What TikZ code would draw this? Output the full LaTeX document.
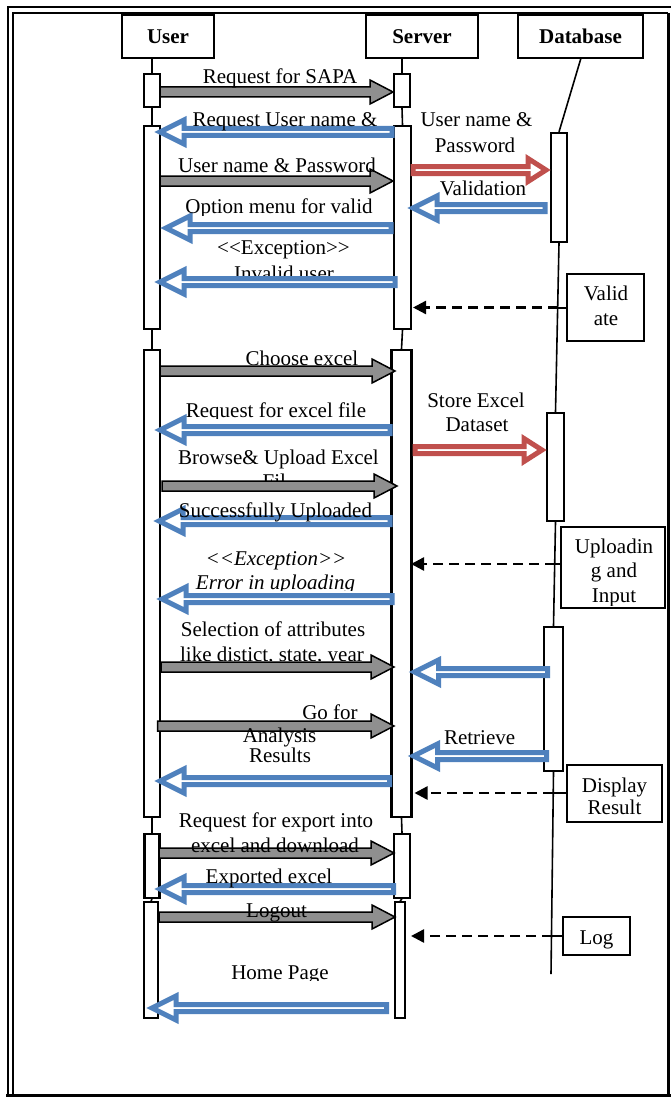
\documentclass[tikz,border=0pt]{standalone}
\usepackage{fontspec}
\setmainfont{Liberation Serif}
\usetikzlibrary{arrows.meta,calc}
\definecolor{ablue}{HTML}{4F81BD}
\definecolor{ared}{HTML}{C0504D}
\definecolor{agray}{HTML}{8F8F8F}
\newcommand{\blockarr}[6]{%
  \draw[#1] let \p1=(#2), \p2=(#3), \n1={ifthenelse(\x2>\x1,1,-1)} in
  (\x1,{\y1+#4}) -- ({\x2-(\n1)*#6},{\y1+#4}) -- ({\x2-(\n1)*#6},{\y1+#5})
  -- (\x2,\y1) -- ({\x2-(\n1)*#6},{\y1-#5}) -- ({\x2-(\n1)*#6},{\y1-#4})
  -- (\x1,{\y1-#4}) -- cycle;}
\newcommand{\gmsg}[2]{\blockarr{garr}{#1}{#2}{5pt}{12pt}{23pt}}
\newcommand{\bmsg}[2]{\blockarr{barr}{#1}{#2}{3.5pt}{12pt}{24pt}}
\newcommand{\rmsg}[2]{\blockarr{rarr}{#1}{#2}{3.5pt}{11.5pt}{18pt}}
\newcommand{\clbl}[6]{% name, x, y, clip x, clip y, text
  \begin{scope}\clip (0,0) rectangle (#4,#5);
  \node[lbl] (#1) at (#2,#3) {#6};\end{scope}}
\newcommand{\excp}{<\kern0pt<Exception>\kern0pt>}
\begin{document}
\begin{tikzpicture}[x=1pt,y=-1pt,
  hdbox/.style={draw, fill=white, line width=1.4pt, inner sep=0pt, font=\fontsize{21}{25}\selectfont\bfseries},
  actbox/.style={draw, fill=white, line width=2.2pt, inner sep=0pt},
  lifeln/.style={line width=1.6pt},
  notebox/.style={draw, fill=white, line width=2pt, inner sep=0pt},
  lbl/.style={inner sep=0pt, anchor=base, font=\fontsize{21}{25}\selectfont},
  garr/.style={fill=agray, draw=black, line width=1.5pt, line join=miter},
  barr/.style={fill=white, draw=ablue, line width=5pt, line join=miter, miter limit=10},
  rarr/.style={fill=white, draw=ared, line width=5pt, line join=miter, miter limit=10},
  dsh/.style={line width=2.4pt, dash pattern=on 10pt off 6pt, -{Triangle[length=13pt,width=13pt]}},
  conn/.style={line width=2pt}]
\useasboundingbox (0,0) rectangle (670,1097);
% frame
\draw[line width=1.5pt] (8,1100) -- (8,7) -- (675,7);
\draw[line width=2.2pt] (13,1095) -- (13,13) -- (668,13);
\draw[line width=3pt] (668,13) -- (668,1095);
\draw[line width=3pt] (6,1095) -- (672,1095);
% headers
\node[hdbox, minimum width=92pt, minimum height=43pt] (uHead) at (168,36.5) {User};
\node[hdbox, minimum width=112pt, minimum height=43pt] (sHead) at (422,36.5) {Server};
\node[hdbox, minimum width=125pt, minimum height=43pt] (dHead) at (580.5,36.5) {Database};
% activation boxes
\node[actbox, minimum width=16pt, minimum height=33pt] (uA1) at (152,90.5) {};
\node[actbox, minimum width=16pt, minimum height=203pt] (uA2) at (152,227.5) {};
\node[actbox, minimum width=16pt, minimum height=467pt] (uA3) at (152,583.5) {};
\node[actbox, minimum width=15pt, minimum height=64pt] (uA4) at (152,866) {};
\node[actbox, minimum width=14pt, minimum height=116pt] (uA5) at (151,960) {};
\node[actbox, minimum width=16pt, minimum height=33pt] (sA1) at (402,90.5) {};
\node[actbox, minimum width=16.5pt, minimum height=203pt] (sA2) at (402.5,227.5) {};
\node[actbox, minimum width=20pt, minimum height=467pt] (sA3) at (401.5,583.5) {};
\node[actbox, minimum width=15.5pt, minimum height=64pt] (sA4) at (402,866) {};
\node[actbox, minimum width=10.5pt, minimum height=116pt] (sA5) at (400,960) {};
\node[actbox, minimum width=16pt, minimum height=109pt] (dA1) at (559,187.5) {};
\node[actbox, minimum width=17pt, minimum height=108pt] (dA2) at (555.5,467) {};
\node[actbox, minimum width=19pt, minimum height=144pt] (dA3) at (553.5,699) {};
% lifelines
\coordinate (dTop) at (581,58);
\coordinate (dEnd) at (551,974);
\draw[lifeln] (uA1.north |- uHead.south) -- (uA1.north);
\draw[lifeln] (uA1.south) -- (uA2.north);
\draw[lifeln] (uA2.south) -- (uA3.north);
\draw[lifeln] (uA3.south) -- (uA4.north);
\draw[lifeln] (uA4.south) -- (uA5.north);
\draw[lifeln] (sA1.north |- sHead.south) -- (sA1.north);
\draw[lifeln] (sA1.south) -- (sA2.north);
\draw[lifeln] (sA2.south) -- (sA3.north);
\draw[lifeln] (sA3.south) -- (sA4.north);
\draw[lifeln] (sA4.south) -- (sA5.north);
\draw[lifeln] (dTop) -- (dA1.north);
\draw[lifeln] (dA1.south) -- (dA2.north);
\draw[lifeln] (dA2.south) -- (dA3.north);
\draw[lifeln] (dA3.south) -- (dEnd);
% message end points
\coordinate (m1a) at (160,92);   \coordinate (m1b) at (393,92);
\coordinate (m2a) at (392,132);  \coordinate (m2b) at (160,132);
\coordinate (m3a) at (160,181);  \coordinate (m3b) at (393,181);
\coordinate (m4a) at (391,228);  \coordinate (m4b) at (166,228);
\coordinate (m5a) at (395,282);  \coordinate (m5b) at (160,282);
\coordinate (m6a) at (413,170);  \coordinate (m6b) at (546,170);
\coordinate (m7a) at (545,208);  \coordinate (m7b) at (413,208);
\coordinate (m9a) at (160,371);  \coordinate (m9b) at (395,371);
\coordinate (m10a) at (415,450); \coordinate (m10b) at (542,450);
\coordinate (m11a) at (390,430); \coordinate (m11b) at (160,430);
\coordinate (m12a) at (162,486); \coordinate (m12b) at (397,486);
\coordinate (m13a) at (390,521); \coordinate (m13b) at (159,521);
\coordinate (m14a) at (392,599); \coordinate (m14b) at (162,599);
\coordinate (m16a) at (161,667); \coordinate (m16b) at (394,667);
\coordinate (m17a) at (547.5,672); \coordinate (m17b) at (414.5,672);
\coordinate (m18a) at (157.5,726); \coordinate (m18b) at (394,726);
\coordinate (m19a) at (546.5,756); \coordinate (m19b) at (413.5,756);
\coordinate (m20a) at (389.5,781); \coordinate (m20b) at (160,781);
\coordinate (m22a) at (159,853); \coordinate (m22b) at (394,853);
\coordinate (m23a) at (393.5,889); \coordinate (m23b) at (160,889);
\coordinate (m24a) at (159,917); \coordinate (m24b) at (395,917);
\coordinate (m26a) at (386.5,1008); \coordinate (m26b) at (152,1008);
% arrows
\gmsg{m1a}{m1b}
\bmsg{m2a}{m2b}
\gmsg{m3a}{m3b}
\bmsg{m4a}{m4b}
\bmsg{m5a}{m5b}
\rmsg{m6a}{m6b}
\bmsg{m7a}{m7b}
\gmsg{m9a}{m9b}
\rmsg{m10a}{m10b}
\bmsg{m11a}{m11b}
\gmsg{m12a}{m12b}
\bmsg{m13a}{m13b}
\bmsg{m14a}{m14b}
\gmsg{m16a}{m16b}
\bmsg{m17a}{m17b}
\gmsg{m18a}{m18b}
\bmsg{m19a}{m19b}
\bmsg{m20a}{m20b}
\gmsg{m22a}{m22b}
\bmsg{m23a}{m23b}
\gmsg{m24a}{m24b}
\bmsg{m26a}{m26b}
% labels
\node[lbl] (t1) at (280,84) {Request for SAPA};
\node[lbl] (t2) at (285,127) {Request User name \&};
\node[lbl] (t3) at (277,172) {User name \& Password};
\clbl{t4}{279}{213}{670}{215}{Option menu for valid}
\node[lbl] (t5a) at (283.5,254) {\excp};
\clbl{t5b}{284}{280}{670}{275}{Invalid user}
\node[lbl] (t6a) at (476.5,127) {User name \&};
\node[lbl] (t6b) at (475,152) {Password};
\clbl{t7}{483}{195}{670}{195}{Validation}
\clbl{t9}{302}{365}{670}{366}{Choose excel}
\node[lbl] (t10a) at (476,407) {Store Excel};
\node[lbl] (t10b) at (477,431) {Dataset};
\clbl{t11}{276}{417}{670}{418}{Request for excel file}
\node[lbl] (t12a) at (278.5,464) {Browse\& Upload Excel};
\clbl{t12b}{279}{488}{285}{480}{File}
\node[lbl] (t13) at (275.5,517) {Successfully Uploaded};
\node[lbl] (t14a) at (276,565) {\itshape \excp};
\clbl{t14b}{275.5}{589}{670}{590}{\itshape Error in uploading}
\node[lbl] (t16a) at (273,636) {Selection of attributes};
\clbl{t16b}{272}{661}{670}{660}{like distict, state, year}
\node[lbl] (t18a) at (330,719) {Go for};
\clbl{t18b}{279.5}{742}{670}{746}{Analysis}
\node[lbl] (t19) at (479.6,744) {Retrieve};
\node[lbl] (t20) at (280,762) {Results};
\node[lbl] (t22a) at (276,827) {Request for export into};
\node[lbl] (t22b) at (275,852) {excel and download};
\node[lbl] (t23) at (269,883) {Exported excel};
\node[lbl] (t24) at (276.5,917) {Logout};
\clbl{t26}{280}{979}{670}{980}{Home Page}
% side notes
\node[notebox, minimum width=77pt, minimum height=67pt] (valBox) at (605.5,307.5) {};
\node[lbl] (valT1) at (606,300) {Valid};
\node[lbl] (valT2) at (606,325) {ate};
\node[notebox, minimum width=104pt, minimum height=81pt] (uplBox) at (613,567.5) {};
\node[lbl] (uplT1) at (614,553) {Uploadin};
\node[lbl] (uplT2) at (614,577) {g and};
\clbl{uplT3}{614}{602}{670}{605}{Input}
\node[notebox, minimum width=95pt, minimum height=57pt] (dispBox) at (614.5,793.5) {};
\node[lbl] (dispT1) at (614.5,792) {Display};
\node[lbl] (dispT2) at (614.5,814) {Result};
\node[notebox, minimum width=67pt, minimum height=38pt] (logBox) at (596.5,936) {};
\node[lbl] (logT) at (596.5,944) {Log};
% return connectors
\coordinate (vL) at (557.5,307.5);  \coordinate (vT) at (413,307.5);
\coordinate (uL) at (555,564);      \coordinate (uT) at (411,564);
\coordinate (pL) at (553,793);      \coordinate (pT) at (414.5,793);
\coordinate (lL) at (552,936);      \coordinate (lT) at (411,936);
\draw[conn] (valBox.west) -- (vL);
\draw[conn] (uplBox.west |- uL) -- (uL);
\draw[conn] (dispBox.west |- pL) -- (pL);
\draw[conn] (logBox.west) -- (lL);
\draw[dsh] (vL) -- (vT);
\draw[dsh] (uL) -- (uT);
\draw[dsh] (pL) -- (pT);
\draw[dsh] (lL) -- (lT);
\end{tikzpicture}
\end{document}
